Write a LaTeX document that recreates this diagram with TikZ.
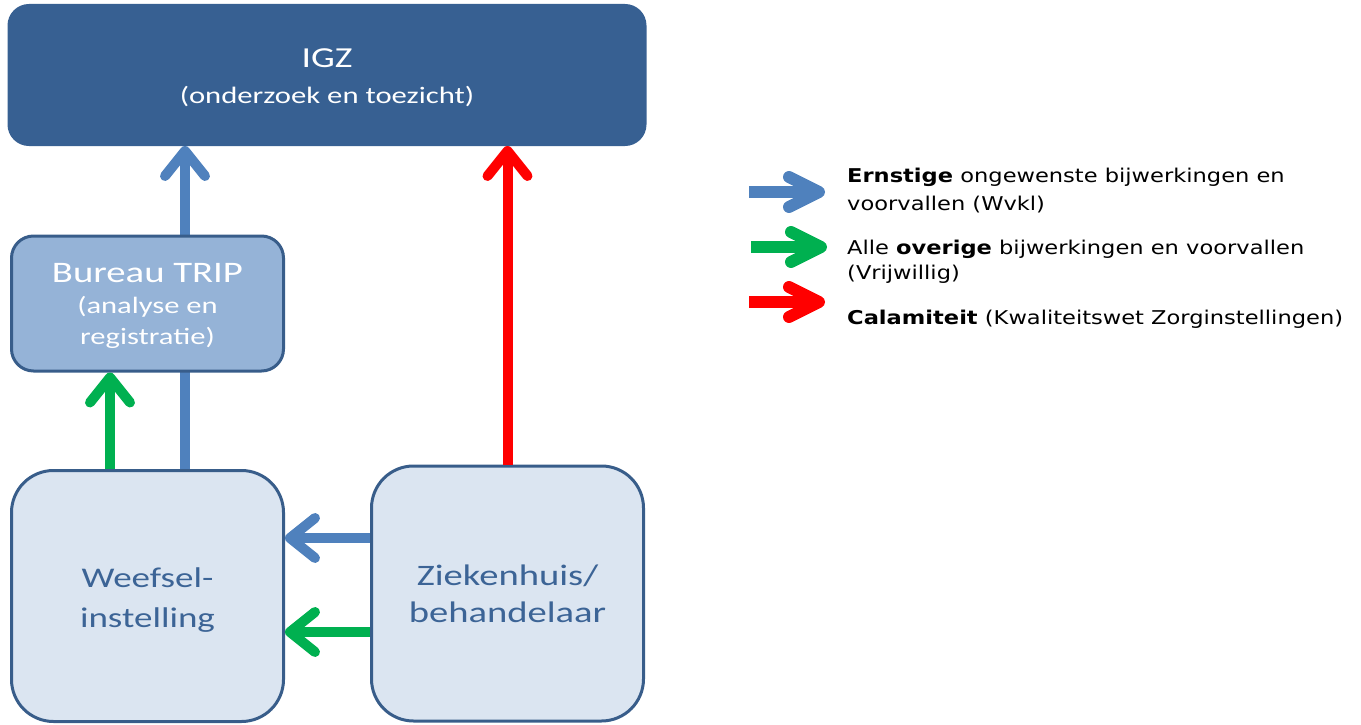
\documentclass[tikz,border=0pt]{standalone}
\usepackage{fontspec}
\usepackage{graphicx}
\setmainfont{Carlito}
\newfontfamily\legfont{DejaVu Sans}
\usetikzlibrary{arrows.meta,backgrounds}
\definecolor{igzfill}{RGB}{55,96,146}
\definecolor{boxborder}{RGB}{56,93,138}
\definecolor{tripfill}{RGB}{149,179,215}
\definecolor{lightfill}{RGB}{219,229,241}
\definecolor{boxtext}{RGB}{60,100,150}
\definecolor{arrblue}{RGB}{79,129,189}
\definecolor{arrgreen}{RGB}{0,176,80}
\definecolor{arrred}{RGB}{255,0,0}
\newcommand{\hs}[1]{\scalebox{1.3}[1]{#1}}
\newcommand{\ls}[1]{\scalebox{1.187}[1]{#1}}
\newcommand{\fs}[2]{\fontsize{#1}{#2}\selectfont}
\tikzset{
  box/.style={draw=boxborder, line width=3pt, align=center, inner sep=0pt},
  conn/.style={line width=10pt, -{Straight Barb[length=25pt,width=40pt,round]}},
  legarrow/.style={line width=12pt, -{Straight Barb[length=30pt,width=30pt,round]}},
  legtext/.style={anchor=base west, inner sep=0pt, font=\legfont\fontsize{19}{27}\selectfont},
}
\begin{document}
\begin{tikzpicture}[x=1pt,y=-1pt]
\useasboundingbox (0,0) rectangle (1361,725);
% nodes
\node[box, draw=igzfill, fill=igzfill, rounded corners=20pt, minimum width=636pt, minimum height=139pt, text=white,
      font=\fs{29}{36}] (igz) at (327,75)
      {\rule{0pt}{30pt}\hs{IGZ}\\{\fs{23.6}{36}\hs{(onderzoek en toezicht)}}\rule[-10pt]{0pt}{10pt}};
\node[box, fill=tripfill, rounded corners=22pt, minimum width=272pt, minimum height=135pt, text=white,
      font=\fs{29.8}{31}] (trip) at (147.5,303.5)
      {\rule{0pt}{26pt}\hs{Bureau TRIP}\\{\fs{23.5}{31}\hs{(analyse en}}\\{\fs{23.5}{31}\hs{registratie)}}\rule[-7pt]{0pt}{7pt}};
\node[box, fill=lightfill, rounded corners=42pt, minimum width=272pt, minimum height=251pt, text=boxtext,
      font=\fs{28.5}{40}] (wee) at (147.5,596)
      {\rule{0pt}{30pt}\hs{Weefsel-}\\\hs{instelling}\rule[-8pt]{0pt}{8pt}};
\node[box, fill=lightfill, rounded corners=42pt, minimum width=272pt, minimum height=255pt, text=boxtext,
      font=\fs{29.7}{37}] (zie) at (507.5,593.5)
      {\rule{0pt}{28pt}\hs{Ziekenhuis/}\\\hs{behandelaar}\rule[-8pt]{0pt}{8pt}};
% helper coordinates
\coordinate (bx) at (185,0);
\coordinate (gx) at (110,0);
\coordinate (by) at (0,538);
\coordinate (gy) at (0,632);
% connectors
\begin{scope}[on background layer]
\draw[conn, arrblue] (wee.north -| bx) -- (igz.south -| bx);
\end{scope}
\draw[conn, arrgreen] (wee.north -| gx) -- (trip.south -| gx);
\draw[conn, arrred] (zie.north) -- (igz.south -| zie.north);
\draw[conn, arrblue] (zie.west |- by) -- (wee.east |- by);
\draw[conn, arrgreen] (zie.west |- gy) -- (wee.east |- gy);
% legend
\coordinate (l1s) at (749,192);
\coordinate (l1e) at (825,192);
\coordinate (l2s) at (751,247);
\coordinate (l2e) at (827,247);
\coordinate (l3s) at (749,302);
\coordinate (l3e) at (825,302);
\draw[legarrow, arrblue] (l1s) -- (l1e);
\draw[legarrow, arrgreen] (l2s) -- (l2e);
\draw[legarrow, arrred] (l3s) -- (l3e);
\node[legtext] (t1a) at (847,182) {\ls{\textbf{Ernstige} ongewenste bijwerkingen en}};
\node[legtext] (t1b) at (847,210) {\ls{voorvallen (Wvkl)}};
\node[legtext] (t2a) at (847,254) {\ls{Alle \textbf{overige} bijwerkingen en voorvallen}};
\node[legtext] (t2b) at (847,279) {\ls{(Vrijwillig)}};
\node[legtext] (t3) at (847,324) {\ls{\textbf{Calamiteit} (Kwaliteitswet Zorginstellingen)}};
\end{tikzpicture}
\end{document}
